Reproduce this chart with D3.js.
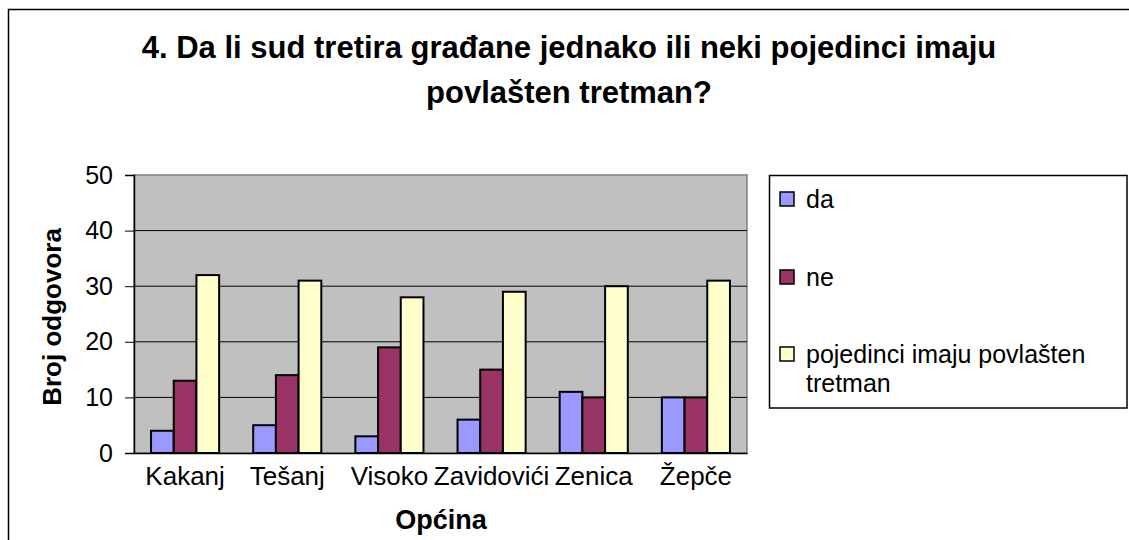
<!DOCTYPE html>
<html>
<head>
<meta charset="utf-8">
<script src="https://cdn.jsdelivr.net/npm/d3@7"></script>
<style>
  body { margin: 0; background: #fff; }
  text { font-family: "Liberation Sans", Arial, sans-serif; }
</style>
</head>
<body>
<svg id="chart" width="1129" height="540"></svg>
<script>
// DATA
const categories = ["Kakanj", "Tešanj", "Visoko", "Zavidovići", "Zenica", "Žepče"];
const seriesNames = ["da", "ne", "pojedinci imaju povlašten tretman"];
const da = [4, 5, 3, 6, 11, 10];
const ne = [13, 14, 19, 15, 10, 10];
const povlasten = [32, 31, 28, 29, 30, 31];
const yTicks = [0, 10, 20, 30, 40, 50];
const colors = ["#9999FF", "#993366", "#FFFFCC"];

const values = [da, ne, povlasten];
const FONT = "'Liberation Sans', Arial, sans-serif";

const svg = d3.select("#chart");

// outer chart border
svg.append("rect")
  .attr("x", 8.5).attr("y", 9.5)
  .attr("width", 1140).attr("height", 560)
  .attr("fill", "#fff").attr("stroke", "#000").attr("stroke-width", 1.5);

// ── Title ──
const title = svg.append("text")
  .attr("text-anchor", "middle")
  .attr("font-size", 31).attr("font-weight", "bold");
title.append("tspan").attr("x", 569).attr("y", 58)
  .text("4. Da li sud tretira građane jednako ili neki pojedinci imaju");
title.append("tspan").attr("x", 569).attr("y", 103)
  .text("povlašten tretman?");

// ── Plot area ──
const plot = { left: 134, right: 747, top: 175, bottom: 453 };

const x = d3.scaleBand()
  .domain(categories)
  .range([plot.left, plot.right])
  .paddingInner(1 / 3)
  .paddingOuter(1 / 6);

const xs = d3.scaleBand()
  .domain(d3.range(seriesNames.length))
  .range([0, x.bandwidth()]);

const y = d3.scaleLinear().domain([0, 50]).range([plot.bottom, plot.top]);

svg.append("rect")
  .attr("x", plot.left).attr("y", plot.top)
  .attr("width", plot.right - plot.left).attr("height", plot.bottom - plot.top)
  .attr("fill", "#C0C0C0").attr("stroke", "#808080").attr("stroke-width", 1.5);

// gridlines
svg.append("g").selectAll("line")
  .data(yTicks.filter(d => d > 0 && d < 50))
  .join("line")
  .attr("x1", plot.left).attr("x2", plot.right)
  .attr("y1", d => y(d)).attr("y2", d => y(d))
  .attr("stroke", "#000").attr("stroke-width", 1);

// y axis
const yAxis = svg.append("g")
  .attr("transform", `translate(${plot.left},0)`)
  .call(d3.axisLeft(y).tickValues(yTicks).tickSize(9).tickPadding(12));
yAxis.select(".domain").attr("stroke", "#000").attr("stroke-width", 1.5);
yAxis.selectAll(".tick line").attr("stroke", "#000");
yAxis.selectAll("text").attr("font-size", 25).attr("fill", "#000")
  .attr("font-family", FONT);

// x axis
const xAxis = svg.append("g")
  .attr("transform", `translate(0,${plot.bottom})`)
  .call(d3.axisBottom(x).tickSize(0).tickPadding(14));
xAxis.select(".domain").attr("stroke", "#000").attr("stroke-width", 1.5);
xAxis.selectAll("text").attr("font-size", 26).attr("fill", "#000")
  .attr("font-family", FONT);

// bars
seriesNames.forEach((name, si) => {
  svg.append("g").selectAll("rect")
    .data(values[si])
    .join("rect")
    .attr("x", (d, i) => x(categories[i]) + xs(si))
    .attr("y", d => y(d))
    .attr("width", xs.bandwidth())
    .attr("height", d => y(0) - y(d))
    .attr("fill", colors[si])
    .attr("stroke", "#000").attr("stroke-width", 2);
});

// axis titles
svg.append("text")
  .attr("transform", "translate(61,317) rotate(-90)")
  .attr("text-anchor", "middle")
  .attr("font-size", 26).attr("font-weight", "bold")
  .text("Broj odgovora");

svg.append("text")
  .attr("x", 441).attr("y", 529)
  .attr("text-anchor", "middle")
  .attr("font-size", 27).attr("font-weight", "bold")
  .text("Općina");

// ── Legend ──
svg.append("rect")
  .attr("x", 769.5).attr("y", 175.5)
  .attr("width", 1127 - 769.5).attr("height", 408 - 175.5)
  .attr("fill", "#fff").attr("stroke", "#000").attr("stroke-width", 1.5);

const legendBase = [208, 286, 363];
const legend = svg.append("g");
seriesNames.forEach((name, si) => {
  legend.append("rect")
    .attr("x", 780).attr("y", legendBase[si] - 16)
    .attr("width", 14).attr("height", 14)
    .attr("fill", colors[si]).attr("stroke", "#000").attr("stroke-width", 1.5);
});
legend.append("text").attr("x", 806).attr("y", legendBase[0])
  .attr("font-size", 25).text("da");
legend.append("text").attr("x", 806).attr("y", legendBase[1])
  .attr("font-size", 25).text("ne");
const lt = legend.append("text").attr("font-size", 25);
lt.append("tspan").attr("x", 806).attr("y", legendBase[2]).text("pojedinci imaju povlašten");
lt.append("tspan").attr("x", 806).attr("y", legendBase[2] + 29).text("tretman");
</script>
</body>
</html>
